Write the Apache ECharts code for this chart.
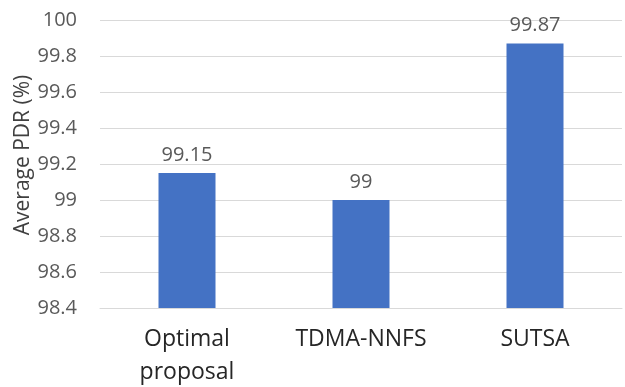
<!DOCTYPE html>
<html>
<head>
<meta charset="utf-8">
<script src="https://cdn.jsdelivr.net/npm/echarts@6/dist/echarts.min.js"></script>
<style>
  html, body { margin: 0; padding: 0; background: #fff; }
  #chart { width: 625px; height: 387px; }
</style>
</head>
<body>
<div id="chart"></div>
<script>
// Average packet delivery ratio per scheme
const categories = ['Optimal\nproposal', 'TDMA-NNFS', 'SUTSA'];
const pdrValues = [99.15, 99, 99.87];
const yTicks = { min: 98.4, max: 100, interval: 0.2 };

const fontFamily = '"Open Sans", "Noto Sans", sans-serif';

const chart = echarts.init(document.getElementById('chart'), null, { renderer: 'canvas' });
chart.setOption({
  animation: false,
  backgroundColor: '#ffffff',
  grid: { left: 100, right: 3, top: 20, bottom: 79, outerBoundsMode: 'none' },
  xAxis: {
    type: 'category',
    data: categories,
    axisLine: { show: true, lineStyle: { color: '#d9d9d9', width: 1 } },
    axisTick: { show: false },
    axisLabel: {
      color: '#262626',
      fontFamily: fontFamily,
      fontSize: 23,
      lineHeight: 33,
      margin: 15
    }
  },
  yAxis: {
    type: 'value',
    min: yTicks.min,
    max: yTicks.max,
    interval: yTicks.interval,
    name: 'Average PDR (%)',
    nameLocation: 'middle',
    nameGap: 66,
    nameMoveOverlap: false,
    nameTextStyle: {
      color: '#404040',
      fontFamily: fontFamily,
      fontSize: 21,
      padding: [0, 0, 0, 18]
    },
    axisLine: { show: false },
    axisTick: { show: false },
    splitLine: { lineStyle: { color: '#d9d9d9', width: 1 } },
    axisLabel: {
      color: '#595959',
      fontFamily: fontFamily,
      fontSize: 20,
      margin: 23,
      formatter: v => String(parseFloat(v.toFixed(1)))
    }
  },
  series: [{
    type: 'bar',
    data: pdrValues,
    barWidth: 57,
    itemStyle: { color: '#4472C4' },
    label: {
      show: true,
      position: 'top',
      distance: 8,
      color: '#595959',
      fontFamily: fontFamily,
      fontSize: 20,
      formatter: p => String(p.value)
    }
  }]
});
</script>
</body>
</html>
